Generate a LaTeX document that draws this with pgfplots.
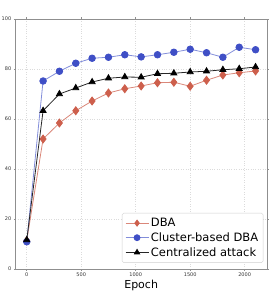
\documentclass[border=0pt]{standalone}
\usepackage{pgfplots}
\pgfplotsset{compat=1.18}
\usepackage{fontspec}
\setmainfont{DejaVu Sans}
\definecolor{cred}{HTML}{CD5F4C}
\definecolor{cblue}{HTML}{3F4FC6}
\definecolor{frame}{HTML}{8F8F8F}
\begin{document}
\begin{tikzpicture}[x=1pt,y=1pt]
\path[use as bounding box] (-15.3,-31) rectangle (259.7,269);
\begin{axis}[
  scale only axis, width=251.7pt, height=250pt,
  at={(0,0)}, anchor=south west,
  xmin=-105, xmax=2205, ymin=0, ymax=100,
  xtick={0,500,1000,1500,2000}, ytick={0,20,40,60,80,100},
  /pgf/number format/assume math mode=true,
  /pgf/number format/set thousands separator={},
  tick label style={font=\fontsize{5}{6}\selectfont, text=black!80},
  xticklabel style={yshift=1pt},
  yticklabel style={xshift=1pt},
  tick align=outside, major tick length=1.5pt,
  tick style={frame, line width=0.5pt},
  axis line style={frame, line width=0.8pt},
  grid=major, grid style={dotted, black!14, line width=0.7pt},
  xlabel={Epoch}, xlabel style={font=\fontsize{11}{13}\selectfont, yshift=4pt},
  legend style={at={(0.9855,0.025)}, anchor=south east, font=\fontsize{11.5}{13}\selectfont,
    draw=black!18, rounded corners=1.5pt, row sep=0.5pt, inner xsep=3pt, inner ysep=3pt,
    cells={anchor=west}},
  legend image code/.code={\draw[mark repeat=2,mark phase=2, mark size=3pt] plot coordinates {(0pt,0pt)(11.5pt,0pt)(23pt,0pt)};},
  legend cell align=left,
]
\addplot[cred!75, line width=0.8pt, mark=diamond*, mark size=4pt,
  mark options={draw=cred, fill=cred, opacity=1}] coordinates {
(0,11.3) (150,52.0) (300,58.4) (450,63.3) (600,67.2) (750,70.4) (900,72.1)
(1050,73.2) (1200,74.5) (1350,74.7) (1500,73.1) (1650,75.5) (1800,77.6)
(1950,78.5) (2100,79.2)};
\addlegendentry{DBA}
\addplot[cblue!65, line width=0.8pt, mark=*, mark size=3.3pt,
  mark options={draw=cblue, fill=cblue}] coordinates {
(0,10.9) (150,75.2) (300,79.1) (450,82.3) (600,84.3) (750,84.7) (900,85.7)
(1050,84.85) (1200,85.7) (1350,86.7) (1500,87.9) (1650,86.5) (1800,84.7)
(1950,88.7) (2100,87.7)};
\addlegendentry{Cluster-based DBA}
\addplot[black!85, line width=0.8pt, mark=triangle*, mark size=3.5pt,
  mark options={draw=black, fill=black}] coordinates {
(0,11.6) (150,63.3) (300,70.0) (450,72.4) (600,74.8) (750,76.3) (900,76.8)
(1050,76.7) (1200,78.1) (1350,78.3) (1500,78.8) (1650,79.1) (1800,79.7)
(1950,80.1) (2100,80.8)};
\addlegendentry{Centralized attack}
\end{axis}
\end{tikzpicture}
\end{document}
